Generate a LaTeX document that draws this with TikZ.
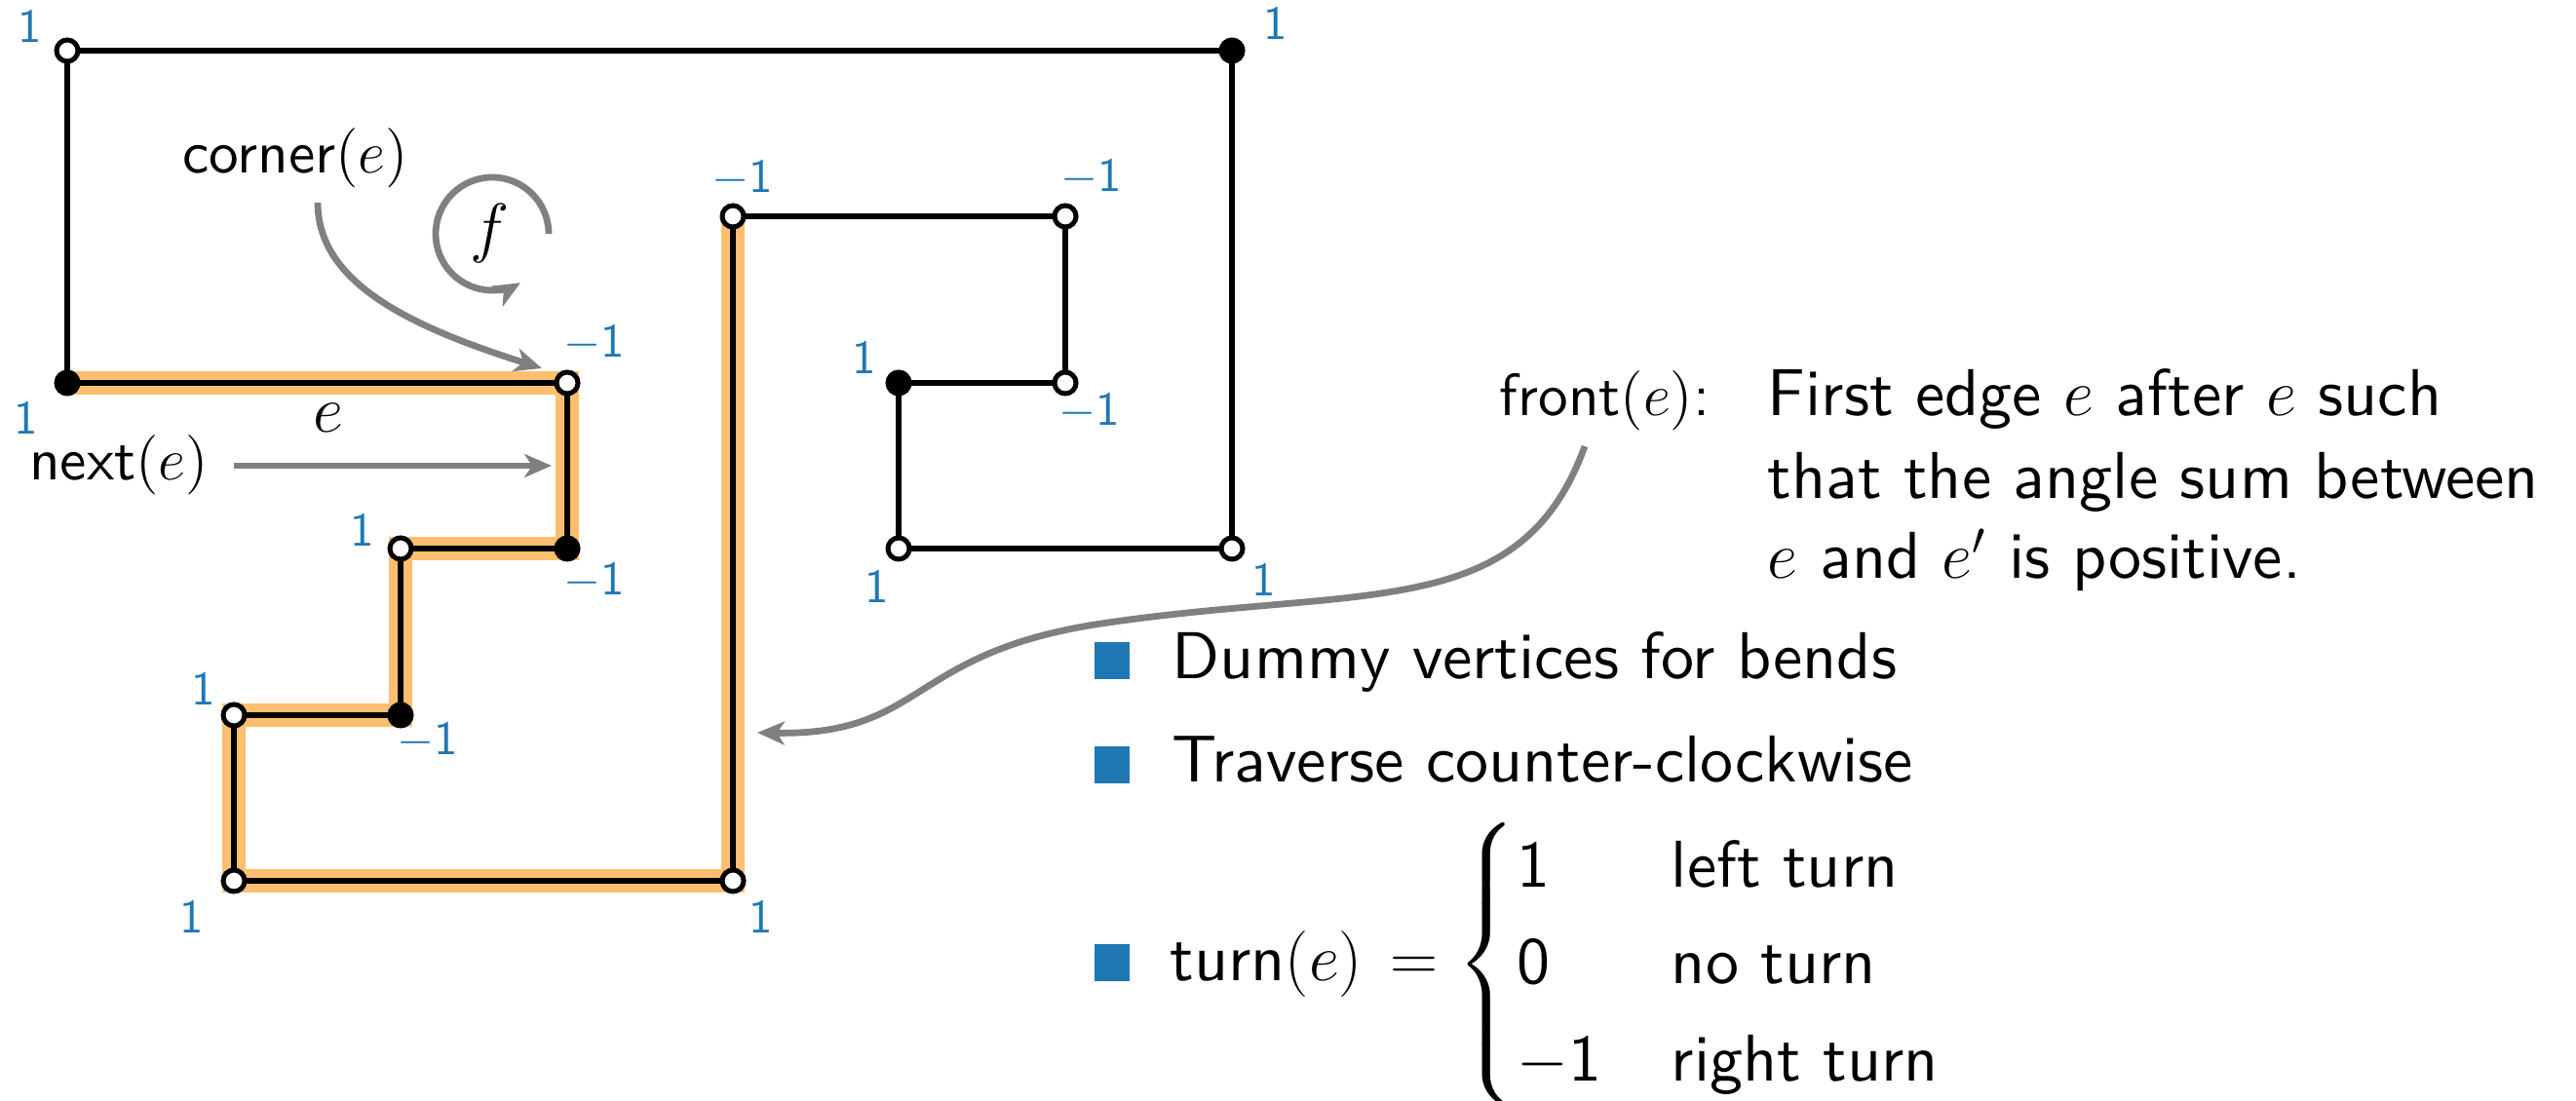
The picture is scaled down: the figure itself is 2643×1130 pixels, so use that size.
\RequirePackage{fix-cm}
\documentclass[tikz,border=0pt]{standalone}
\usepackage{amsmath}
\usepackage{fontspec}
\setsansfont{lmsans10-regular.otf}
\usetikzlibrary{arrows.meta}
\definecolor{hl}{RGB}{253,191,111}
\definecolor{lblue}{RGB}{31,119,180}
\definecolor{agray}{RGB}{128,128,128}
\tikzset{
 ov/.style={circle,draw=black,fill=white,line width=1.25pt,minimum size=5.5pt,inner sep=0pt},
 fv/.style={ov,fill=black},
 blk/.style={line width=1.7pt,black},
 hlpath/.style={line width=5.8pt,hl},
 lab/.style={text=lblue,font=\sffamily\fontsize{12.25}{14}\selectfont,inner sep=0pt},
 ptr/.style={agray,line width=1.7pt,-{Stealth[length=7pt,width=6pt,inset=2pt]}},
 txt/.style={font=\sffamily\fontsize{17}{20.7}\selectfont,inner sep=0pt},
 stxt/.style={font=\sffamily\fontsize{15.3}{18}\selectfont,inner sep=0pt},
 bul/.style={fill=lblue,minimum width=9pt,minimum height=9.5pt,inner sep=0pt},
}
\begin{document}
\begin{tikzpicture}[x=0.25pt,y=-0.25pt]
\useasboundingbox (0,0) rectangle (2643,1130);
% vertex positions
\coordinate (A) at (69,52);
\coordinate (B) at (1264,52);
\coordinate (P) at (1264,563);
\coordinate (O) at (922,563);
\coordinate (N) at (922,393);
\coordinate (M) at (1093,393);
\coordinate (L) at (1093,222);
\coordinate (K) at (752,222);
\coordinate (J) at (752,904);
\coordinate (I) at (240,904);
\coordinate (H) at (240,734);
\coordinate (G) at (411,734);
\coordinate (F) at (411,563);
\coordinate (E) at (582,563);
\coordinate (D) at (582,393);
\coordinate (C) at (69,393);
% highlight
\draw[hlpath] (C) -- (D) -- (E) -- (F) -- (G) -- (H) -- (I) -- (J) -- (K);
% edges
\draw[blk] (A) -- (B) -- (P) -- (O) -- (N) -- (M) -- (L) -- (K) -- (J) -- (I) -- (H) -- (G) -- (F) -- (E) -- (D) -- (C) -- cycle;
% vertices
\node[ov] (vA) at (A) {};
\node[fv] (vB) at (B) {};
\node[ov] (vP) at (P) {};
\node[ov] (vO) at (O) {};
\node[fv] (vN) at (N) {};
\node[ov] (vM) at (M) {};
\node[ov] (vL) at (L) {};
\node[ov] (vK) at (K) {};
\node[ov] (vJ) at (J) {};
\node[ov] (vI) at (I) {};
\node[ov] (vH) at (H) {};
\node[fv] (vG) at (G) {};
\node[ov] (vF) at (F) {};
\node[fv] (vE) at (E) {};
\node[ov] (vD) at (D) {};
\node[fv] (vC) at (C) {};
% angle labels
\node[lab] (lA) at (31,27) {1};
\node[lab] (lB) at (1309,24) {1};
\node[lab] (lC) at (27,429) {1};
\node[lab] (lD) at (610,352) {$-$1};
\node[lab] (lE) at (610,596) {$-$1};
\node[lab] (lF) at (372,544) {1};
\node[lab] (lG) at (439,760) {$-$1};
\node[lab] (lH) at (209,707) {1};
\node[lab] (lI) at (197,941) {1};
\node[lab] (lJ) at (781,941) {1};
\node[lab] (lK) at (762,183) {$-$1};
\node[lab] (lL) at (1120,182) {$-$1};
\node[lab] (lM) at (1118,422) {$-$1};
\node[lab] (lN) at (887,367) {1};
\node[lab] (lO) at (900,602) {1};
\node[lab] (lP) at (1297,595) {1};
% left annotations
\node[stxt,anchor=base] (ce) at (303,178) {corner$(e)$};
\node[stxt,anchor=base] (ne) at (122,493) {next$(e)$};
\node[txt] (el) at (337,429) {$e$};
\node[txt] (fl) at (503,240) {$f$};
\coordinate (fc) at (505,240);
\draw[ptr] ([shift={(0:14.5pt)}]fc) arc[start angle=0,end angle=300,radius=14.5pt];
\coordinate (cs) at (326,208);
\coordinate (ct) at (556,378);
\draw[ptr] (cs) .. controls (326,290) and (420,335) .. (ct);
\coordinate (ns) at (240,478);
\coordinate (nt) at (566,478);
\draw[ptr] (ns) -- (nt);
% front(e)
\node[stxt,anchor=base west] (fr) at (1538,427) {front$(e)$:};
\node[txt,anchor=base west] (l1) at (1813,427) {First edge $e$ after $e$ such};
\node[txt,anchor=base west] (l2) at (1813,512) {that the angle sum between};
\node[txt,anchor=base west] (l3) at (1813,594) {$e$ and $e'$ is positive.};
\coordinate (fs) at (1626,458);
\coordinate (fm) at (1130,640);
\coordinate (ft) at (777,752);
\draw[ptr] (fs) .. controls (1560,640) and (1400,600) .. (fm) .. controls (930,670) and (950,755) .. (ft);
% bullets
\node[bul] (b1) at (1141,678) {};
\node[txt,anchor=base west] (t1) at (1202,697) {Dummy vertices for bends};
\node[bul] (b2) at (1141,785) {};
\node[txt,anchor=base west] (t2) at (1202,803) {Traverse counter-clockwise};
\node[bul] (b3) at (1141,988) {};
\node[txt,anchor=base west] (t3) at (1200,1007) {turn$(e)\hspace{2.5pt} = \begin{cases}\text{1} & \hspace{1pt}\text{left turn}\\ \text{0} & \hspace{1pt}\text{no turn}\\ -\text{1} & \hspace{1pt}\text{right turn}\end{cases}$};
\end{tikzpicture}
\end{document}
